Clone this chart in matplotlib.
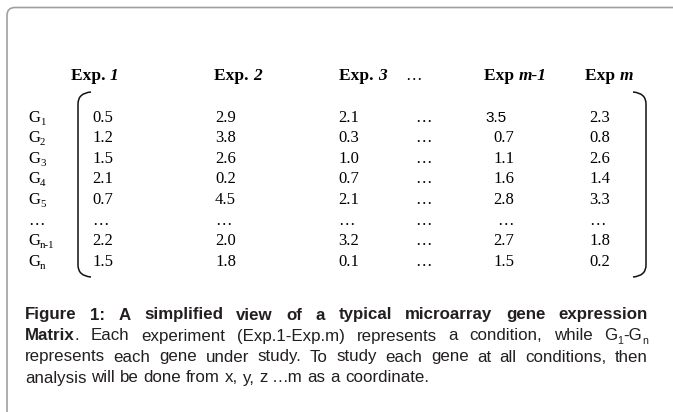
import matplotlib
matplotlib.use('Agg')
import matplotlib.pyplot as plt
from matplotlib.path import Path
from matplotlib.patches import PathPatch
from matplotlib.font_manager import FontProperties

# ---------------- data ----------------
gene_subscripts = ['1', '2', '3', '4', '5', None, 'n-1', 'n']   # None -> "…" row
exp_prefix = ['Exp. ', 'Exp. ', 'Exp. ', '…', 'Exp ', 'Exp ']
exp_suffix = ['1', '2', '3', '', 'm-1', 'm']
exp1 = ['0.5', '1.2', '1.5', '2.1', '0.7', '…', '2.2', '1.5']
exp2 = ['2.9', '3.8', '2.6', '0.2', '4.5', '…', '2.0', '1.8']
exp3 = ['2.1', '0.3', '1.0', '0.7', '2.1', '…', '3.2', '0.1']
expdots = ['…'] * 8
exp_m1 = ['3.5', '0.7', '1.1', '1.6', '2.8', '…', '2.7', '1.5']
exp_m = ['2.3', '0.8', '2.6', '1.4', '3.3', '…', '1.8', '0.2']
columns = [exp1, exp2, exp3, expdots, exp_m1, exp_m]

caption_lines = [
    # each word: list of (text, bold, subscript)
    [[('Figure', 1, 0)], [('1:', 1, 0)], [('A', 1, 0)], [('simplified', 1, 0)], [('view', 1, 0)],
     [('of', 1, 0)], [('a', 1, 0)], [('typical', 1, 0)], [('microarray', 1, 0)], [('gene', 1, 0)],
     [('expression', 1, 0)]],
    [[('Matrix', 1, 0), ('.', 0, 0)], [('Each', 0, 0)], [('experiment', 0, 0)], [('(Exp.1-Exp.m)', 0, 0)],
     [('represents', 0, 0)], [('a', 0, 0)], [('condition,', 0, 0)], [('while', 0, 0)],
     [('G', 0, 0), ('1', 0, 1), ('-G', 0, 0), ('n', 0, 1)]],
    [[(w, 0, 0)] for w in 'represents each gene under study. To study each gene at all conditions, then'.split()],
    [[(w, 0, 0)] for w in 'analysis will be done from x, y, z …m as a coordinate.'.split()],
]
justified = [True, True, True, False]

# ---------------- layout ----------------
W, H = 673, 412
fig = plt.figure(figsize=(W / 100, H / 100), dpi=100)
ax = fig.add_axes([0, 0, 1, 1])
ax.set_xlim(0, W)
ax.set_ylim(H, 0)
ax.axis('off')

serif = 'Liberation Serif'
sans = 'Liberation Sans'
num_size = 12
head_size = 12.5
cap_size = 12.2

# frame (rounded top-left corner)
r = 8
fx, fy = 7, 7.5
frame = Path([(fx, H + 5), (fx, fy + r), (fx, fy), (fx + r, fy), (W + 5, fy)],
             [Path.MOVETO, Path.LINETO, Path.CURVE3, Path.CURVE3, Path.LINETO])
ax.add_patch(PathPatch(frame, fill=False, edgecolor='#a0a0a0', lw=1.2))

head_x = [71, 214, 339, 405, 484, 585]
col_x = [92, 215, 338, 415, 493, 589]
head_base = 80
row_base0 = 121.5
row_dy = 20.6
gene_x = 28

renderer = fig.canvas.get_renderer()


def text_w(s, prop):
    w, h, d = renderer.get_text_width_height_descent(s, prop, ismath=False)
    return w


# headers
for i, (p, s) in enumerate(zip(exp_prefix, exp_suffix)):
    x = head_x[i]
    if p == '…':
        ax.text(x, head_base, p, family=serif, fontsize=num_size, va='baseline', ha='left')
        continue
    fp = FontProperties(family=serif, weight='bold', size=head_size)
    ax.text(x, head_base, p, fontproperties=fp, va='baseline', ha='left')
    x2 = x + text_w(p, fp)
    fpi = FontProperties(family=serif, weight='bold', style='italic', size=head_size)
    ax.text(x2, head_base, s, fontproperties=fpi, va='baseline', ha='left')

# gene labels
for j, sub in enumerate(gene_subscripts):
    yb = row_base0 + j * row_dy
    if sub is None:
        ax.text(gene_x, yb, '…', family=serif, fontsize=num_size, va='baseline', ha='left')
        continue
    fp = FontProperties(family=serif, size=num_size)
    ax.text(gene_x, yb, 'G', fontproperties=fp, va='baseline', ha='left')
    xs = gene_x + text_w('G', fp)
    ax.text(xs, yb + 3, sub, family=serif, fontsize=num_size * 0.65, va='baseline', ha='left')

# matrix values
for i, col in enumerate(columns):
    for j, v in enumerate(col):
        yb = row_base0 + j * row_dy
        x = col_x[i]
        if i == 4 and j == 0:
            ax.text(x - 8, yb, v, family=sans, fontsize=num_size - 1, va='baseline', ha='left')
        elif i == 4 and v == '…':
            ax.text(x + 4, yb, v, family=serif, fontsize=num_size, va='baseline', ha='left')
        else:
            ax.text(x, yb, v, family=serif, fontsize=num_size, va='baseline', ha='left')

# brackets
bt, bb = 92, 277
lx, rx = 78, 646
h = 12
hook = 13
left = Path([(lx + hook, bt), (lx, bt + 1), (lx, bt + h), (lx, bb - h), (lx, bb - 1), (lx + hook, bb)],
            [Path.MOVETO, Path.CURVE3, Path.CURVE3, Path.LINETO, Path.CURVE3, Path.CURVE3])
right = Path([(rx - hook, bt), (rx, bt + 1), (rx, bt + h), (rx, bb - h), (rx, bb - 1), (rx - hook, bb)],
             [Path.MOVETO, Path.CURVE3, Path.CURVE3, Path.LINETO, Path.CURVE3, Path.CURVE3])
for pth in (left, right):
    ax.add_patch(PathPatch(pth, fill=False, edgecolor='#111111', lw=1.1))

# caption (justified)
cap_left, cap_right = 25, 648
cap_base0 = 319.5
cap_dy = 21
color = '#231f20'
for li, words in enumerate(caption_lines):
    yb = cap_base0 + li * cap_dy
    widths = []
    for word in words:
        wsum = 0
        for (t, b, sb) in word:
            fp = FontProperties(family=sans, weight='bold' if b else 'normal',
                                size=cap_size * (0.62 if sb else 1))
            wsum += text_w(t, fp)
        widths.append(wsum)
    if justified[li]:
        gap = (cap_right - cap_left - sum(widths)) / (len(words) - 1)
    else:
        gap = text_w(' ', FontProperties(family=sans, size=cap_size))
    x = cap_left
    for word, wd in zip(words, widths):
        xx = x
        for (t, b, sb) in word:
            fp = FontProperties(family=sans, weight='bold' if b else 'normal',
                                size=cap_size * (0.62 if sb else 1))
            ax.text(xx, yb + (3 if sb else 0), t, fontproperties=fp, color=color,
                    va='baseline', ha='left')
            xx += text_w(t, fp)
        x += wd + gap

fig.savefig('out.png', dpi=100)
